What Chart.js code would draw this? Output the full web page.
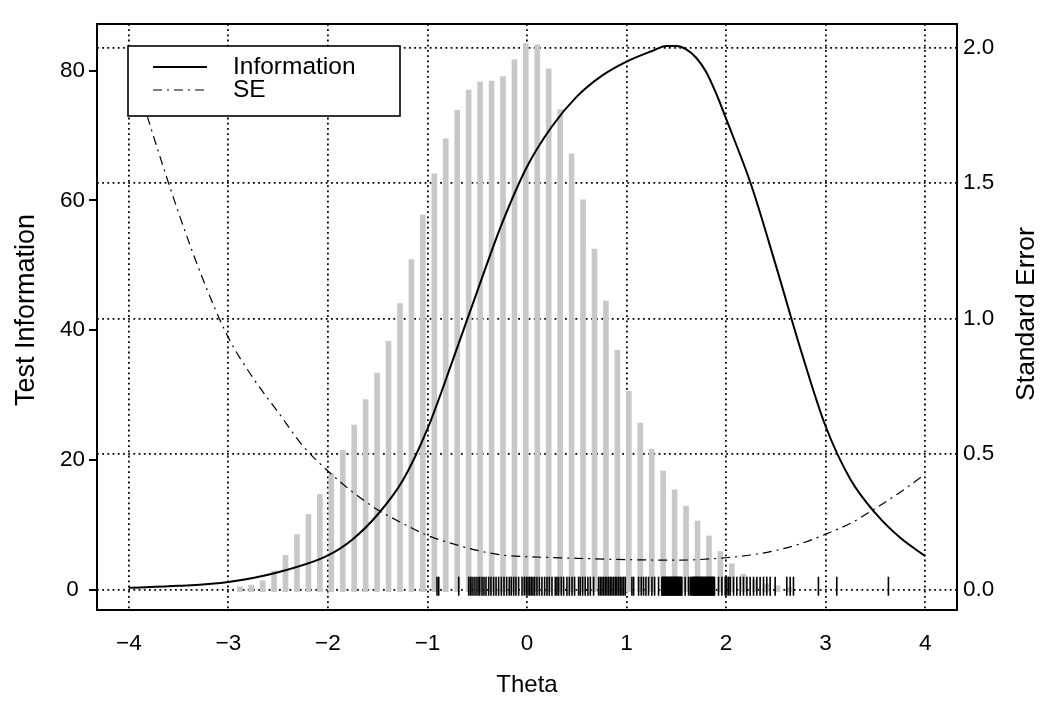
<!DOCTYPE html>
<html>
<head>
<meta charset="utf-8">
<script src="https://cdn.jsdelivr.net/npm/chart.js@4.4.1/dist/chart.umd.min.js"></script>
<style>
  html,body{margin:0;padding:0;background:#fff}
  canvas{display:block}
</style>
</head>
<body>
<canvas id="chart" width="1050" height="712"></canvas>
<script>
/* test information / SE plot */
const thetaTicks = [-4,-3,-2,-1,0,1,2,3,4];
const infoTicks  = [0,20,40,60,80];
const seTicks    = [0,0.5,1,1.5,2];

// test information curve (left axis)
const infoTheta  = [-4,-3.5,-3,-2.5,-2,-1.75,-1.5,-1.25,-1,-0.75,-0.5,-0.25,0,0.25,0.5,0.75,1,1.25,1.4,1.5,1.6,1.7,1.8,1.9,2,2.25,2.5,2.75,3,3.25,3.5,3.75,4];
const infoValues = [0.3,0.6,1.2,2.7,5.3,7.8,11.6,16.8,24.8,35.2,46,56.5,65.2,71.4,76.0,79.2,81.4,83.0,83.8,83.8,83.3,82.0,79.8,76.5,72.6,62.5,50,37,25.2,17,11.8,8,5.2];

// standard error curve (right axis)
const seTheta  = [-4,-3.75,-3.5,-3.25,-3,-2.75,-2.5,-2.25,-2,-1.75,-1.5,-1.25,-1,-0.75,-0.5,-0.25,0,0.5,1,1.5,2,2.25,2.5,2.75,3,3.25,3.5,3.75,4];
const seValues = [1.97,1.67,1.39,1.14,0.93,0.78,0.655,0.53,0.438,0.36,0.295,0.245,0.2,0.17,0.145,0.128,0.122,0.116,0.111,0.109,0.118,0.128,0.145,0.17,0.205,0.245,0.3,0.36,0.426];

// grey distribution bars
const barTheta   = [-2.886,-2.771,-2.656,-2.541,-2.426,-2.311,-2.196,-2.081,-1.966,-1.851,-1.736,-1.621,-1.506,-1.391,-1.276,-1.161,-1.046,-0.931,-0.816,-0.701,-0.586,-0.471,-0.356,-0.241,-0.126,-0.012,0.103,0.218,0.333,0.448,0.563,0.678,0.793,0.908,1.023,1.138,1.253,1.368,1.483,1.598,1.713,1.828,1.943,2.058,2.173,2.288,2.403,2.518,2.633];
const barHeights = [0.46,0.72,1.4,2.9,5.3,8.5,11.6,14.7,17.9,21.5,25.4,29.3,33.4,38.3,44.1,50.9,57.8,64.1,69.5,73.9,77.0,78.3,78.4,79.1,81.7,84.2,84.0,80.3,74.0,67.2,60.1,52.5,44.5,36.9,30.6,25.7,21.7,18.3,15.4,12.9,10.6,8.3,5.9,4.0,2.4,1.5,0.9,0.6,0.4];

// rug of theta estimates
const rugTheta = [-0.904,-0.887,-0.686,
  -0.586,-0.569,-0.552,-0.532,-0.512,-0.492,-0.475,-0.452,-0.432,-0.412,-0.385,-0.362,-0.335,-0.311,-0.285,-0.258,-0.231,-0.204,-0.178,-0.158,-0.134,-0.111,-0.084,
  -0.050,-0.027,-0.007,0.010,0.027,0.043,0.060,0.077,0.100,0.124,0.150,0.177,0.201,0.224,0.251,0.284,0.301,0.318,0.344,0.368,0.401,0.425,0.452,0.478,0.518,0.535,0.559,0.585,0.612,0.636,0.669,
  0.719,0.736,0.753,0.769,0.786,0.803,0.820,0.836,0.853,0.870,0.887,0.903,0.920,0.937,0.954,0.970,0.987,
  1.054,1.071,1.121,1.148,1.171,1.195,1.221,1.255,1.282,1.322,
  1.355,1.362,1.369,1.375,1.382,1.389,1.395,1.402,1.409,1.415,1.422,1.429,1.435,1.442,1.449,1.455,1.462,1.469,1.476,1.482,1.489,1.495,1.502,1.509,1.516,1.522,1.529,1.536,1.543,1.549,1.556,
  1.589,1.623,1.640,
  1.656,1.663,1.670,1.676,1.683,1.690,1.697,1.703,1.710,1.717,1.723,1.730,1.737,1.743,1.750,1.757,1.764,1.770,1.777,1.784,1.790,1.797,1.804,1.810,1.817,1.824,1.830,1.837,1.844,1.850,1.857,1.864,1.871,1.877,1.884,
  1.924,1.958,1.991,2.008,2.025,2.041,2.075,2.108,2.142,2.175,2.209,2.242,2.276,2.309,2.342,2.376,2.409,2.443,2.493,
  2.610,2.644,2.677,2.928,3.112,3.631];

const FONT = "'Liberation Sans', Arial, Helvetica, sans-serif";
Chart.defaults.color = '#000';
Chart.defaults.font.family = FONT;

const pts = (xs, ys) => xs.map((x,i)=>({x, y: ys[i]}));
const fixTicks = arr => (s => { s.ticks = arr.map(v => ({value: v})); });
const dottedGrid = {color:'#000', lineWidth:1.8, offset:false, drawTicks:false};
const dottedBorder = {display:false, dash:[1.8,3.4]};

const framePlugin = {
  id: 'frame',
  afterDatasetsDraw(chart){
    // legend box, drawn over the curves
    const {ctx, chartArea:a} = chart;
    const lx = a.left + 31, ly = a.top + 22, lw = 272, lh = 70;
    ctx.save();
    ctx.fillStyle = '#fff';
    ctx.fillRect(lx, ly, lw, lh);
    ctx.strokeStyle = '#000';
    ctx.lineWidth = 1.6;
    ctx.strokeRect(lx, ly, lw, lh);
    const items = [chart.data.datasets[0], chart.data.datasets[1]];
    items.forEach((d,i)=>{
      const y = ly + 21 + i*23;
      ctx.beginPath();
      ctx.setLineDash(d.borderDash || []);
      ctx.lineWidth = d.borderWidth;
      ctx.strokeStyle = d.borderColor;
      ctx.moveTo(lx + 25, y);
      ctx.lineTo(lx + 79, y);
      ctx.stroke();
      ctx.setLineDash([]);
      ctx.fillStyle = '#000';
      ctx.font = '24.5px ' + FONT;
      ctx.textBaseline = 'middle';
      ctx.textAlign = 'left';
      ctx.fillText(d.label, lx + 105, y);
    });
    ctx.restore();
  },
  afterDraw(chart){
    const {ctx, chartArea:a} = chart;
    ctx.save();
    ctx.setLineDash([]);
    ctx.fillStyle = '#000';
    // left axis tick marks
    const ys = chart.scales.y;
    infoTicks.forEach(v=>{
      const py = Math.round(ys.getPixelForValue(v));
      ctx.fillRect(a.left - 8, py - 1, 8, 2);
    });
    ctx.strokeStyle = '#000';
    ctx.lineWidth = 2;
    ctx.strokeRect(a.left, a.top, a.right - a.left, a.bottom - a.top);
    ctx.textAlign = 'center';
    ctx.textBaseline = 'middle';
    // left axis title
    ctx.save();
    ctx.translate(27, 310);
    ctx.rotate(-Math.PI/2);
    ctx.font = '27px ' + FONT;
    ctx.fillText('Test Information', 0, 0);
    ctx.restore();
    // right axis title, reading bottom to top
    ctx.translate(1027, 314);
    ctx.rotate(-Math.PI/2);
    ctx.font = '26.5px ' + FONT;
    ctx.fillText('Standard Error', 0, 0);
    ctx.restore();
  }
};

new Chart(document.getElementById('chart'), {
  type: 'line',
  data: {
    datasets: [
      {label:'Information', type:'line', data: pts(infoTheta, infoValues), yAxisID:'y',
       borderColor:'#000', borderWidth:2, pointRadius:0, cubicInterpolationMode:'monotone', order:1},
      {label:'SE', type:'line', data: pts(seTheta, seValues), yAxisID:'y1',
       borderColor:'#000', borderWidth:1.2, borderDash:[9,5,2,5], pointRadius:0, cubicInterpolationMode:'monotone', order:2},
      {label:'dist', type:'bar', data: pts(barTheta, barHeights), yAxisID:'y',
       backgroundColor:'#c8c8c8', borderWidth:0, barThickness:5, base:-0.3, order:4},
      {label:'rug', type:'scatter', data: rugTheta.map(t=>({x:t, y:0.55})), yAxisID:'y',
       pointStyle:'line', rotation:90, pointRadius:9.5, borderColor:'#000', pointBorderWidth:1.6, showLine:false, order:3}
    ]
  },
  options: {
    responsive:false,
    animation:false,
    events:[],
    layout:{padding:{top:24, left:0, right:0, bottom:0}},
    plugins:{legend:{display:false}, tooltip:{enabled:false}},
    scales:{
      x:{
        type:'linear', min:-4.32, max:4.32, offset:false,
        afterBuildTicks: fixTicks(thetaTicks),
        afterFit: s => { s.height = 102; },
        border:dottedBorder,
        grid:dottedGrid,
        ticks:{padding:20, font:{size:22.5}, maxRotation:0,
               callback: v => v < 0 ? '\u2212' + Math.abs(v) : String(v)},
        title:{display:true, text:'Theta', font:{size:24}, padding:{top:0, bottom:12}}
      },
      y:{
        type:'linear', position:'left', min:-3.12, max:87.2,
        afterBuildTicks: fixTicks(infoTicks),
        afterFit: s => { s.width = 97; },
        border:{display:false},
        grid:{drawOnChartArea:false, drawTicks:true, tickLength:7, tickColor:'rgba(0,0,0,0)'},
        ticks:{padding:5, font:{size:22.5}, crossAlign:'center'},
        title:{display:false}
      },
      y1:{
        type:'linear', position:'right', min:-0.0748, max:2.087,
        afterBuildTicks: fixTicks(seTicks),
        afterFit: s => { s.width = 93; },
        border:dottedBorder,
        grid:{...dottedGrid, drawOnChartArea:true},
        ticks:{padding:6, font:{size:22.5}, callback: v => v.toFixed(1)}
      }
    }
  },
  plugins:[framePlugin]
});
</script>
</body>
</html>
